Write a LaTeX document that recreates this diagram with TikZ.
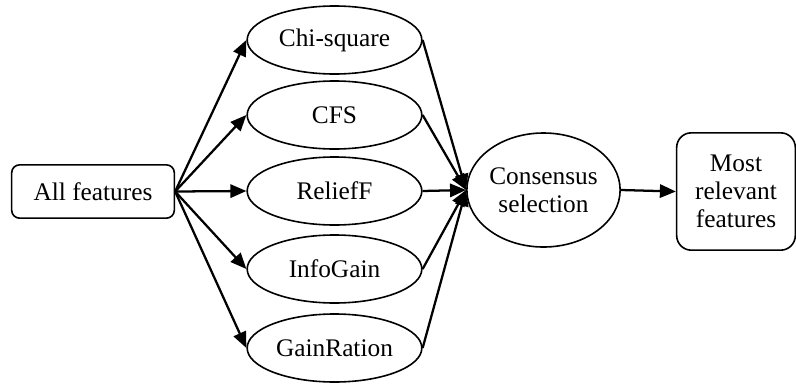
\documentclass[tikz,border=0pt]{standalone}
\usepackage{fontspec}
\setmainfont{Liberation Serif}
\usetikzlibrary{shapes.geometric,arrows.meta}
\begin{document}
\begin{tikzpicture}[x=0.75pt,y=-0.75pt,
  every node/.style={font=\fontsize{19}{21}\selectfont, inner sep=0pt},
  rbox/.style={draw, line width=1.2pt, align=center},
  ell/.style={draw, ellipse, line width=1.2pt, minimum width=131pt, minimum height=51pt},
  arr/.style={line width=1.7pt, -{Triangle[length=12pt,width=10pt]}}]
\useasboundingbox (0,0) rectangle (796,383);
\node[rbox, rounded corners=6pt, minimum width=122pt, minimum height=40pt] (af) at (93,191.5) {All features};
\node[ell] (chi) at (334.5,40) {Chi-square};
\node[ell] (cfs) at (334.5,115) {CFS};
\node[ell] (rel) at (334.5,191) {ReliefF};
\node[ell] (ig) at (334.5,269) {InfoGain};
\node[ell] (gr) at (334.5,348) {GainRation};
\node[draw, ellipse, line width=1.2pt, minimum width=110pt, minimum height=85.5pt, align=center] (cons) at (543.5,190) {Consensus\\selection};
\node[rbox, rounded corners=11pt, minimum width=89pt, minimum height=88pt] (mrf) at (736,191.5) {Most\\relevant\\features};
\foreach \n in {chi,cfs,rel,ig,gr}{
  \draw[arr] (af.east) -- (\n.west);
  \draw[arr] (\n.east) -- (cons.west);
}
\draw[arr] (cons.east) -- (mrf.west);
\end{tikzpicture}
\end{document}
